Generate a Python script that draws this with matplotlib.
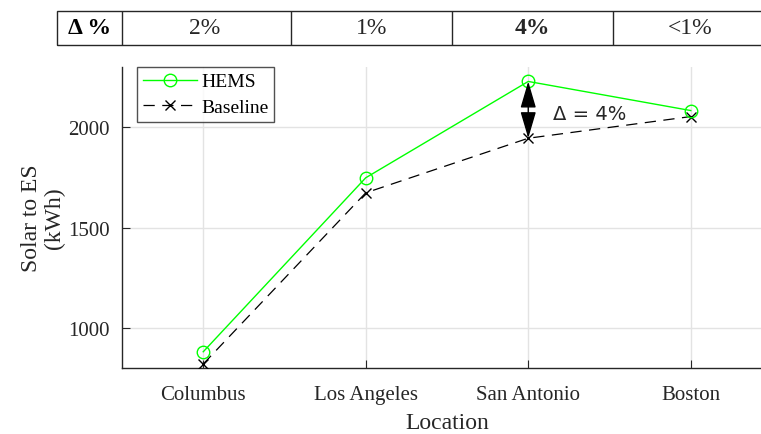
import matplotlib
matplotlib.use("Agg")
import matplotlib.pyplot as plt
from matplotlib.patches import Rectangle

locations = ["Columbus", "Los Angeles", "San Antonio", "Boston"]
hems = [881, 1748, 2228, 2083]
baseline = [820, 1673, 1945, 2053]
delta_labels = ["2%", "1%", "4%", "<1%"]
delta_bold = [False, False, True, False]
yticks = [1000, 1500, 2000]

plt.rcParams['font.family'] = ['Liberation Serif', 'DejaVu Serif']
W, H = 761, 435
fig = plt.figure(figsize=(W / 100, H / 100), dpi=100)

ax = fig.add_axes([122 / W, 66 / H, (772 - 122) / W, 301 / H])
x = list(range(1, len(locations) + 1))
ax.plot(x, hems, color='#00ff00', lw=1.0, marker='o', ms=9, mfc='none', mec='#00ff00', mew=1.0,
        label='HEMS', zorder=4)
ax.plot(x, baseline, color='black', lw=0.9, ls=(0, (9, 6)), marker='x', ms=7, mew=1.0,
        label='Baseline', zorder=3)
ax.set_xlim(0.5, 4.5)
ax.set_ylim(800, 2300)
ax.set_xticks(x)
ax.set_xticklabels(locations, fontsize=15)
ax.set_yticks(yticks)
ax.set_yticklabels([str(v) for v in yticks], fontsize=15)
ax.grid(True, color='#e3e3e3', lw=1.0)
ax.set_axisbelow(True)
for s in ['top', 'right']:
    ax.spines[s].set_visible(False)
for s in ['left', 'bottom']:
    ax.spines[s].set_color('#262626')
    ax.spines[s].set_linewidth(1.0)
ax.tick_params(direction='in', length=6, color='#262626', labelcolor='#262626')
ax.tick_params(axis='x', pad=12)
ax.tick_params(axis='y', pad=9)
ax.set_xlabel('Location', fontsize=17, color='#262626', labelpad=6)
ax.set_ylabel('Solar to ES\n(kWh)', fontsize=17, color='#262626', labelpad=2, linespacing=1.15)

leg = ax.legend(loc='upper left', bbox_to_anchor=(0.023, 1.0), fontsize=14, frameon=True,
                fancybox=False, edgecolor='#262626', handlelength=2.8, borderpad=0.3,
                labelspacing=0.4, handletextpad=0.2, borderaxespad=0.0)
leg.get_frame().set_linewidth(1.0)

# delta arrow at San Antonio
i = 2
ax.annotate('', xy=(x[i], baseline[i]), xytext=(x[i], hems[i]),
            arrowprops=dict(arrowstyle='<|-|>,head_length=0.75,head_width=0.22', color='black',
                            lw=1.0, mutation_scale=22, shrinkA=0, shrinkB=0), zorder=5)
ax.text(x[i] + 0.15, 2070, '\u0394 = 4%', fontsize=14,
        family=['DejaVu Sans'], va='center', ha='left', color='#262626')

# delta table at top
tab = fig.add_axes([57 / W, (H - 45.5) / H, (800 - 57) / W, 34 / H])
tab.set_xlim(57, 800)
tab.set_ylim(0, 1)
tab.axis('off')
tab.add_patch(Rectangle((57, 0), 800 - 57, 1, fill=False, ec='#262626', lw=1.0, clip_on=False))
for d in [122, 291, 452, 613]:
    tab.plot([d, d], [0, 1], color='#262626', lw=1.0)
tab.text(89.5, 0.5, '\u0394 %', fontsize=17, fontweight='bold', ha='center', va='center')
centers = [205, 372, 532, 690]
for c, lab, b in zip(centers, delta_labels, delta_bold):
    tab.text(c, 0.5, lab, fontsize=17, ha='center', va='center',
             fontweight='bold' if b else 'normal', color='#262626')

fig.savefig('out.png', dpi=100)
